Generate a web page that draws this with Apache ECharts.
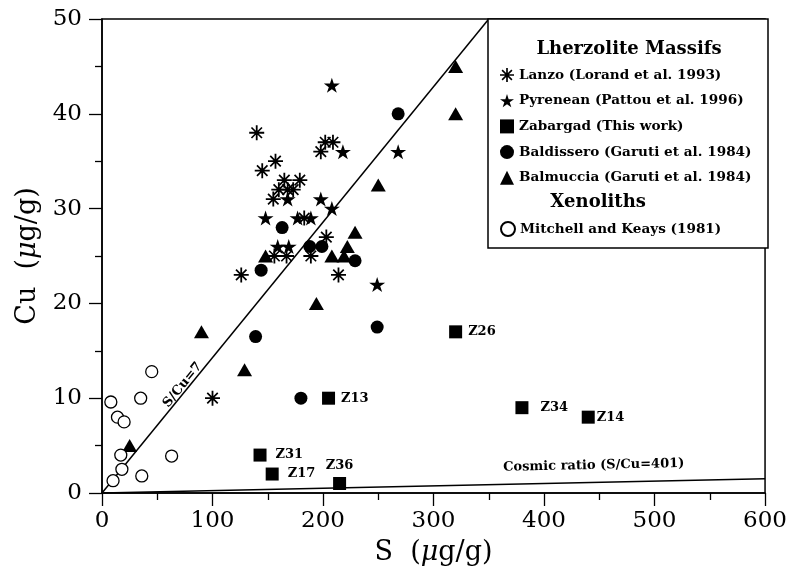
<!DOCTYPE html>
<html><head><meta charset="utf-8">
<script src="https://cdn.jsdelivr.net/npm/echarts@6/dist/echarts.min.js"></script>
<style>html,body{margin:0;padding:0;background:#fff}#c{width:790px;height:571px}</style>
</head><body><div id="c"></div>
<script>
// ---- data ----
const xRange = [0, 600], xStep = 100;
const yRange = [0, 50], yStep = 10;
const lanzo = [[140,38],[202,37],[209,37],[198,36],[157,35],[145,34],[165,33],[179,33],[160,32],[168,32],[173,32],[155,31],[183,29],[203,27],[156,25],[167,25],[189,25],[126,23],[214,23],[100,10]];
const pyrenean = [[208,43],[218,36],[268,36],[168,31],[198,31],[208,30],[148,29],[177,29],[189,29],[159,26],[169,26],[249,22]];
const zabargad = [[320,17],[205,10],[380,9],[440,8],[143,4],[154,2],[215,1]];
const zabargadNames = ['Z26','Z13','Z34','Z14','Z31','Z17','Z36'];
const baldissero = [[268,40],[163,28],[188,26],[199,26],[229,24.5],[144,23.5],[249,17.5],[139,16.5],[180,10]];
const balmuccia = [[320,45],[320,40],[250,32.5],[229,27.5],[222,26],[208,25],[219,25],[148,25],[194,20],[90,17],[129,13],[25,5]];
const mitchell = [[45,12.8],[8,9.6],[35,10],[14,8],[20,7.5],[17,4],[63,3.9],[18,2.5],[36,1.8],[10,1.3]];
const ratio7Line = [[0,0],[350,50]];
const cosmicLine = [[0,0],[600,1.496]];
const seriesNames = ['Lanzo (Lorand et al. 1993)','Pyrenean (Pattou et al. 1996)','Zabargad (This work)','Baldissero (Garuti et al. 1984)','Balmuccia (Garuti et al. 1984)','Mitchell and Keays (1981)'];
const headers = ['Lherzolite Massifs','Xenoliths'];
const lineLabels = ['S/Cu=7','Cosmic ratio (S/Cu=401)'];

// ---- styles ----
const FONT = 'DejaVu Serif';
const STAR = 'path://M50 0L61.23 34.55L97.55 34.55L68.17 55.9L79.39 90.45L50 69.1L20.61 90.45L31.83 55.9L2.45 34.55L38.77 34.55Z';
const AST = 'path://M44 0L56 0L56 100L44 100Z M0 44L100 44L100 56L0 56Z M11 19L19 11L89 81L81 89Z M81 11L89 19L19 89L11 81Z';
const zLabelStyle = {
  Z26:{position:'right',distance:6}, Z13:{position:'right',distance:6}, Z34:{position:'right',distance:12},
  Z14:{position:'right',distance:2}, Z31:{position:'right',distance:9}, Z17:{position:'right',distance:9},
  Z36:{position:'top',distance:5}
};
const black = '#000';

const chart = echarts.init(document.getElementById('c'), null, {renderer:'canvas'});
const axisCommon = {
  type:'value',
  nameLocation:'middle',
  axisLine:{show:true, onZero:false, lineStyle:{color:black, width:1.5}},
  axisTick:{show:true, inside:false, length:13, lineStyle:{color:black, width:1.3}},
  minorTick:{show:true, splitNumber:2, length:7, lineStyle:{color:black, width:1.3}},
  splitLine:{show:false},
  axisLabel:{fontFamily:FONT, fontSize:23, color:black},
  nameTextStyle:{fontFamily:FONT, fontSize:27, color:black,
    rich:{r:{fontFamily:FONT, fontSize:27, color:black}, i:{fontFamily:FONT, fontSize:27, fontStyle:'italic', color:black}}}
};
const scatter = (name, data, symbol, size, itemStyle) => ({
  type:'scatter', name, data, symbol, symbolSize:size, itemStyle:Object.assign({opacity:1}, itemStyle), z:5,
  emphasis:{disabled:true}
});

const option = {
  animation:false,
  backgroundColor:'#fff',
  grid:{left:102, right:22, top:19, bottom:77, show:true, borderColor:black, borderWidth:1.5, backgroundColor:'transparent'},
  xAxis:Object.assign({}, axisCommon, {
    min:xRange[0], max:xRange[1], interval:xStep,
    name:'{r|S  (}{i|μ}{r|g/g)}', nameGap:46,
    axisLabel:Object.assign({}, axisCommon.axisLabel, {margin:17})
  }),
  yAxis:Object.assign({}, axisCommon, {
    min:yRange[0], max:yRange[1], interval:yStep,
    name:'{r|Cu  (}{i|μ}{r|g/g)}', nameGap:59,
    axisLabel:Object.assign({}, axisCommon.axisLabel, {margin:20})
  }),
  legend:[
    {orient:'vertical', left:500, top:68, itemWidth:14, itemHeight:14, itemGap:11.7, padding:0, z:10,
     selectedMode:false, data:seriesNames.slice(0,5),
     textStyle:{fontFamily:FONT, fontWeight:'bold', fontSize:13.6, color:black, lineHeight:14}},
    {orient:'vertical', left:500, top:221, itemWidth:14, itemHeight:14, padding:0, z:10,
     selectedMode:false, data:seriesNames.slice(5),
     textStyle:{fontFamily:FONT, fontWeight:'bold', fontSize:13.6, color:black, lineHeight:14}}
  ],
  series:[
    {type:'line', data:ratio7Line, symbol:'none', lineStyle:{color:black, width:1.5}, z:2, silent:true, legendHoverLink:false},
    {type:'line', data:cosmicLine, symbol:'none', lineStyle:{color:black, width:1.5}, z:2, silent:true, legendHoverLink:false},
    scatter(seriesNames[0], lanzo, AST, 15, {color:black}),
    scatter(seriesNames[1], pyrenean, STAR, [16,15], {color:black}),
    scatter(seriesNames[2], zabargad.map((p,i)=>({value:p, name:zabargadNames[i],
        label:Object.assign({show:true, formatter:zabargadNames[i], fontFamily:FONT, fontWeight:'bold', fontSize:13, color:black}, zLabelStyle[zabargadNames[i]])})),
      'rect', 13, {color:black}),
    scatter(seriesNames[3], baldissero, 'circle', 13, {color:black}),
    scatter(seriesNames[4], balmuccia, 'triangle', [15,13], {color:black}),
    scatter(seriesNames[5], mitchell, 'circle', 12, {color:'#fff', borderColor:black, borderWidth:1.3})
  ]
};
chart.setOption(option);

// labels & legend frame
const a = chart.convertToPixel({gridIndex:0}, ratio7Line[0]);
const b = chart.convertToPixel({gridIndex:0}, ratio7Line[1]);
const c0 = chart.convertToPixel({gridIndex:0}, cosmicLine[0]);
const c1 = chart.convertToPixel({gridIndex:0}, cosmicLine[1]);
const rot7 = Math.atan2(-(b[1]-a[1]), b[0]-a[0]);
const rotC = Math.atan2(-(c1[1]-c0[1]), c1[0]-c0[0]);
const p7 = chart.convertToPixel({gridIndex:0}, [73, 11.4]);
const pC = chart.convertToPixel({gridIndex:0}, [445, 2.9]);
const labelFont = 'bold 13px "DejaVu Serif"';
chart.setOption({graphic:[
  {type:'rect', z:3, shape:{x:488, y:19, width:280, height:229}, style:{fill:'#fff', stroke:black, lineWidth:1.5}},
  {type:'text', z:11, x:629, y:49, style:{text:headers[0], font:'bold 18px "DejaVu Serif"', fill:black, align:'center', verticalAlign:'middle'}},
  {type:'text', z:11, x:598, y:202, style:{text:headers[1], font:'bold 18px "DejaVu Serif"', fill:black, align:'center', verticalAlign:'middle'}},
  {type:'text', z:11, x:p7[0], y:p7[1], rotation:rot7, style:{text:lineLabels[0], font:labelFont, fill:black, align:'center', verticalAlign:'middle'}},
  {type:'text', z:11, x:pC[0], y:pC[1], rotation:rotC, style:{text:lineLabels[1], font:labelFont, fill:black, align:'center', verticalAlign:'middle'}}
]});
</script></body></html>
